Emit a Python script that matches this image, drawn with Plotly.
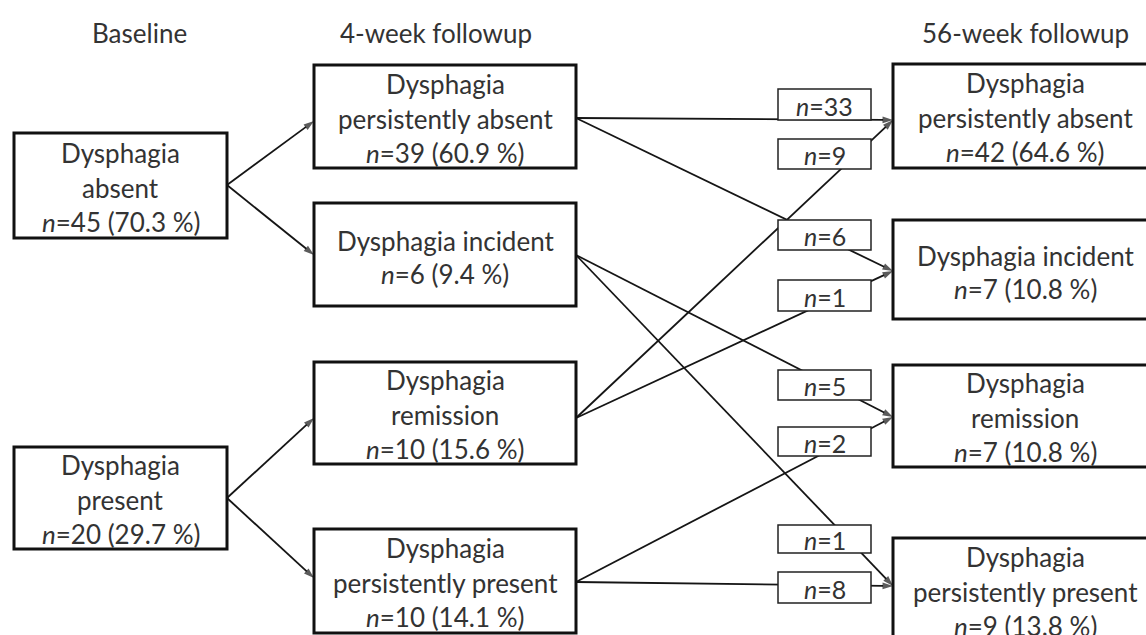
import plotly.graph_objects as go

# ---------------- data ----------------
stage_titles = ["Baseline", "4-week followup", "56-week followup"]

baseline_labels = [["Dysphagia", "absent"], ["Dysphagia", "present"]]
baseline_n = [45, 20]
baseline_pct = [70.3, 29.7]

week4_labels = [["Dysphagia", "persistently absent"], ["Dysphagia incident"],
                ["Dysphagia", "remission"], ["Dysphagia", "persistently present"]]
week4_n = [39, 6, 10, 10]
week4_pct = [60.9, 9.4, 15.6, 14.1]

week56_labels = [["Dysphagia", "persistently absent"], ["Dysphagia incident"],
                 ["Dysphagia", "remission"], ["Dysphagia", "persistently present"]]
week56_n = [42, 7, 7, 9]
week56_pct = [64.6, 10.8, 10.8, 13.8]

# baseline -> 4-week transitions (source index, target index)
early_source = [0, 0, 1, 1]
early_target = [0, 1, 2, 3]

# 4-week -> 56-week transitions
flow_source = [0, 2, 0, 2, 1, 3, 1, 3]
flow_target = [0, 0, 1, 1, 2, 2, 3, 3]
flow_n = [33, 9, 6, 1, 5, 2, 1, 8]

# ---------------- layout geometry (pixels) ----------------
W, H = 1146, 635
TXT = "#333333"
LINE = "#151515"
FONT = "Lato"
FS = 26

title_x = [139, 436, 1025]
title_y = 33

base_x = (14, 227)
base_y = [(133, 238), (447, 549)]
w4_x = (314, 576)
w4_y = [(65, 168), (203, 306), (362, 464), (529, 633)]
w56_x = (893, 1162)
w56_y = [(64, 168), (220, 319), (365, 467), (538, 642)]
w4_out_y = [118, 255, 418, 582]
w56_in_y = [120, 271, 417, 586]
w4_in_y = [121, 255, 418, 578]
base_out_y = [185, 498]

lab_x = (778, 871)
lab_y = [(89, 120), (139, 169), (220, 250), (280, 311),
         (370, 400), (427, 456), (525, 553), (572, 603)]

fig = go.Figure()
shapes = []
annotations = []


def add_text(x, y, text, size=FS):
    annotations.append(dict(x=x, y=y, xref="x", yref="y", text=text, showarrow=False,
                            xanchor="center", yanchor="middle",
                            font=dict(family=FONT, size=size, color=TXT)))


def add_box(x0, x1, y0, y1, lines, n, pct, cx=None):
    shapes.append(dict(type="rect", x0=x0, x1=x1, y0=y0, y1=y1, xref="x", yref="y",
                       line=dict(color="#111111", width=3), fillcolor="rgba(0,0,0,0)",
                       layer="above"))
    all_lines = list(lines) + ["<i>n</i>=%d (%.1f %%)" % (n, pct)]
    c = (y0 + y1) / 2
    if cx is None:
        cx = (x0 + x1) / 2
    if len(all_lines) == 3:
        offs = [-33, 2, 36]
    else:
        offs = [-14, 19]
    for t, o in zip(all_lines, offs):
        add_text(cx, c + o, t)


def add_arrow(x0, y0, x1, y1):
    fig.add_trace(go.Scatter(x=[x0, x1], y=[y0, y1], mode="lines+markers",
                             line=dict(color=LINE, width=1.8),
                             marker=dict(symbol="arrow", size=[0, 11], angleref="previous",
                                         color=LINE, line=dict(width=0)),
                             hoverinfo="skip", showlegend=False))


# stage titles
for t, x in zip(stage_titles, title_x):
    add_text(x, title_y, t)

# boxes
for i in range(2):
    add_box(base_x[0], base_x[1], base_y[i][0], base_y[i][1],
            baseline_labels[i], baseline_n[i], baseline_pct[i])
for i in range(4):
    add_box(w4_x[0], w4_x[1], w4_y[i][0], w4_y[i][1],
            week4_labels[i], week4_n[i], week4_pct[i])
for i in range(4):
    add_box(w56_x[0], w56_x[1], w56_y[i][0], w56_y[i][1],
            week56_labels[i], week56_n[i], week56_pct[i], cx=1025)

# baseline -> 4 week arrows
for s, t in zip(early_source, early_target):
    add_arrow(base_x[1], base_out_y[s], w4_x[0], w4_in_y[t])

# 4 week -> 56 week arrows with count labels
for k, (s, t, n) in enumerate(zip(flow_source, flow_target, flow_n)):
    add_arrow(w4_x[1], w4_out_y[s], w56_x[0], w56_in_y[t])
    y0, y1 = lab_y[k]
    shapes.append(dict(type="rect", x0=lab_x[0], x1=lab_x[1], y0=y0, y1=y1,
                       xref="x", yref="y", line=dict(color="#222222", width=1.5),
                       fillcolor="white", layer="above"))
    add_text((lab_x[0] + lab_x[1]) / 2, (y0 + y1) / 2 + 1, "<i>n</i>=%d" % n, size=25)

fig.update_layout(
    width=W, height=H, margin=dict(l=0, r=0, t=0, b=0),
    paper_bgcolor="white", plot_bgcolor="white",
    xaxis=dict(range=[0, W], visible=False, fixedrange=True),
    yaxis=dict(range=[H, 0], visible=False, fixedrange=True),
    shapes=shapes, annotations=annotations, showlegend=False,
)

fig.write_html("out.html", config={"displayModeBar": False},
               post_script="document.body.style.margin='0';document.body.style.overflow='hidden';")
